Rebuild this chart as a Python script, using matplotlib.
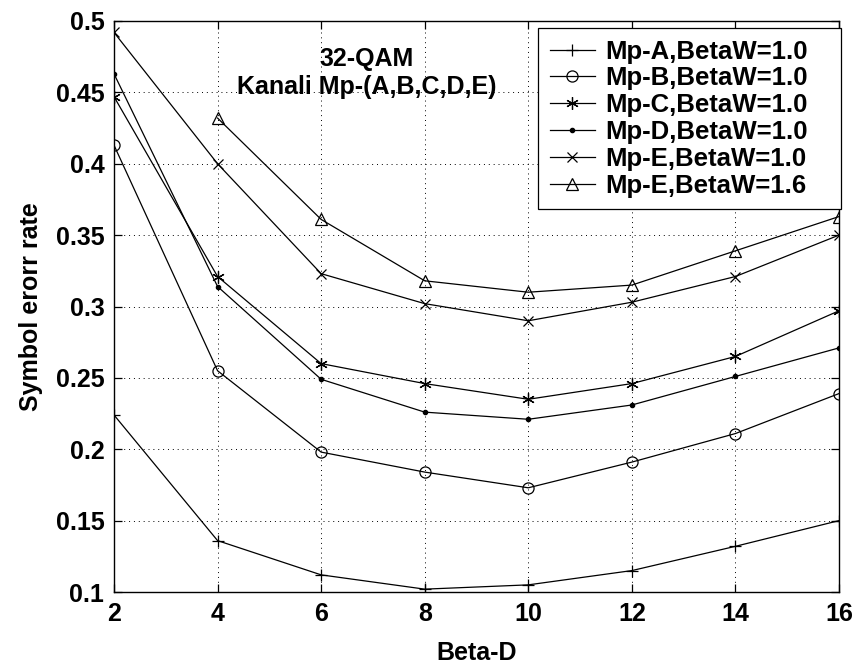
import matplotlib
matplotlib.use("Agg")
import matplotlib.pyplot as plt

beta_d = [2, 4, 6, 8, 10, 12, 14, 16]
mp_a_10 = [0.224, 0.136, 0.112, 0.102, 0.105, 0.115, 0.132, 0.150]
mp_b_10 = [0.413, 0.255, 0.198, 0.184, 0.173, 0.191, 0.211, 0.239]
mp_c_10 = [0.447, 0.321, 0.260, 0.246, 0.235, 0.246, 0.265, 0.297]
mp_d_10 = [0.463, 0.314, 0.249, 0.226, 0.221, 0.231, 0.251, 0.271]
mp_e_10 = [0.492, 0.400, 0.323, 0.302, 0.290, 0.303, 0.321, 0.350]
beta_d_e16 = [4, 6, 8, 10, 12, 14, 16]
mp_e_16 = [0.432, 0.361, 0.318, 0.310, 0.315, 0.339, 0.363]

labels = ["Mp-A,BetaW=1.0", "Mp-B,BetaW=1.0", "Mp-C,BetaW=1.0",
          "Mp-D,BetaW=1.0", "Mp-E,BetaW=1.0", "Mp-E,BetaW=1.6"]
xticks = [2, 4, 6, 8, 10, 12, 14, 16]
yticks = [0.1, 0.15, 0.2, 0.25, 0.3, 0.35, 0.4, 0.45, 0.5]
ytick_labels = ["0.1", "0.15", "0.2", "0.25", "0.3", "0.35", "0.4", "0.45", "0.5"]

plt.rcParams['font.family'] = ['Liberation Sans', 'DejaVu Sans']
plt.rcParams['font.weight'] = 'bold'
plt.rcParams['axes.labelweight'] = 'bold'

FS = 18
LFS = 18.5

fig = plt.figure(figsize=(8.57, 6.68), dpi=100)
ax = fig.add_axes([114/857, 1 - 592/668, (839-114)/857, (592-21)/668])

lw = 0.9
ax.plot(beta_d, mp_a_10, color='k', lw=lw, marker='+', ms=9, mew=0.9, label=labels[0])
ax.plot(beta_d, mp_b_10, color='k', lw=lw, marker='o', ms=8, mfc='none', mew=0.9, label=labels[1])
ax.plot(beta_d, mp_c_10, color='k', lw=lw, marker=(6, 2, 0), ms=9, mew=0.9, label=labels[2])
ax.plot(beta_d, mp_d_10, color='k', lw=lw, marker='.', ms=6, label=labels[3])
ax.plot(beta_d, mp_e_10, color='k', lw=lw, marker='x', ms=7, mew=0.9, label=labels[4])
ax.plot(beta_d_e16, mp_e_16, color='k', lw=lw, marker='^', ms=9, mfc='none', mew=0.9, label=labels[5])

ax.set_xlim(2, 16)
ax.set_ylim(0.1, 0.5)
ax.set_xticks(xticks)
ax.set_yticks(yticks)
ax.set_yticklabels(ytick_labels)
ax.tick_params(direction='in', top=True, right=True, labelsize=FS, length=6, width=0.9, pad=7)
ax.grid(True, color='k', linestyle=(0, (1, 4)), linewidth=0.7)
for s in ax.spines.values():
    s.set_linewidth(1.0)

ax.set_xlabel("Beta-D", fontsize=FS, labelpad=11)
ax.set_ylabel("Symbol erorr rate", fontsize=FS, labelpad=9)

ax.text(6.88, 0.4735, "32-QAM", ha='center', va='center', fontsize=FS)
ax.text(6.88, 0.4535, "Kanali Mp-(A,B,C,D,E)", ha='center', va='center', fontsize=FS)

x0 = (538 - 114) / 725
x1 = (841 - 114) / 725
ytop = (592 - 28) / 571
leg = ax.legend(loc='upper left', bbox_to_anchor=(x0, ytop - 0.4, x1 - x0, 0.4),
                mode='expand', fontsize=LFS,
                frameon=True, fancybox=False, framealpha=1, edgecolor='k',
                handlelength=1.75, handletextpad=0.4, labelspacing=0.11,
                borderpad=0.45, borderaxespad=0.0)
leg.get_frame().set_linewidth(0.9)

fig.savefig("out.png", dpi=100)
